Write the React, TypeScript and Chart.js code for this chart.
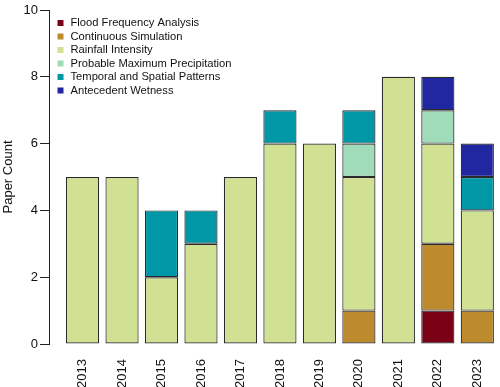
import React, { useEffect, useRef } from "react";
import { Chart, registerables } from "chart.js";

Chart.register(...registerables);

const years = ["2013", "2014", "2015", "2016", "2017", "2018", "2019", "2020", "2021", "2022", "2023"];
const seriesNames = [
  "Flood Frequency Analysis",
  "Continuous Simulation",
  "Rainfall Intensity",
  "Probable Maximum Precipitation",
  "Temporal and Spatial Patterns",
  "Antecedent Wetness",
];
const floodFrequency = [0, 0, 0, 0, 0, 0, 0, 0, 0, 1, 0];
const continuousSimulation = [0, 0, 0, 0, 0, 0, 0, 1, 0, 2, 1];
const rainfallIntensity = [5, 5, 2, 3, 5, 6, 6, 4, 8, 3, 3];
const probableMaxPrecip = [0, 0, 0, 0, 0, 0, 0, 1, 0, 1, 0];
const temporalSpatial = [0, 0, 2, 1, 0, 1, 0, 1, 0, 0, 1];
const antecedentWetness = [0, 0, 0, 0, 0, 0, 0, 0, 0, 1, 1];
const yTicks = [0, 2, 4, 6, 8, 10];
const colors = ["#7a0015", "#be8a2e", "#d0e194", "#a0dcba", "#0097a6", "#2027a0"];

const seriesValues = [
  floodFrequency,
  continuousSimulation,
  rainfallIntensity,
  probableMaxPrecip,
  temporalSpatial,
  antecedentWetness,
];

const FONT = "'Liberation Sans', Arial, Helvetica, sans-serif";

const legendPlugin = {
  id: "insideLegend",
  afterDraw(chart: any) {
    const ctx = chart.ctx;
    const { left, top } = chart.chartArea;
    ctx.save();
    ctx.font = `11.2px ${FONT}`;
    ctx.textBaseline = "middle";
    ctx.textAlign = "left";
    chart.data.datasets.forEach((ds: any, i: number) => {
      const y = top + 13 + i * 13.5;
      ctx.fillStyle = ds.backgroundColor;
      ctx.fillRect(left + 8.5, y - 3, 6, 6);
      ctx.fillStyle = "#111";
      ctx.fillText(ds.label, left + 21.5, y);
    });
    ctx.restore();
  },
};

export default function App() {
  const ref = useRef<HTMLCanvasElement | null>(null);
  useEffect(() => {
    if (!ref.current) return;
    const datasets = seriesNames.map((name, s) => ({
      label: name,
      data: years.map((_, i) => ({ x: i, y: seriesValues[s][i] === 0 ? null : seriesValues[s][i] })),
      backgroundColor: colors[s],
      borderColor: "#2a2a2a",
      borderWidth: 1.2,
      borderSkipped: false,
      barPercentage: 0.84,
      categoryPercentage: 1,
    }));
    const chart = new Chart(ref.current, {
      type: "bar",
      data: { datasets: datasets as any },
      plugins: [legendPlugin],
      options: {
        animation: false,
        responsive: false,
        maintainAspectRatio: false,
        layout: { padding: { top: 10, right: 2, left: 0, bottom: 0 } },
        plugins: { legend: { display: false }, tooltip: { enabled: false } },
        scales: {
          x: {
            type: "linear",
            stacked: true,
            offset: false,
            min: -0.85,
            max: 10.48,
            grid: { display: false, offset: false },
            border: { display: false },
            afterBuildTicks: (scale: any) => {
              scale.ticks = years.map((_, i) => ({ value: i }));
            },
            afterFit: (scale: any) => {
              scale.height = 43;
            },
            ticks: {
              autoSkip: false,
              minRotation: 90,
              maxRotation: 90,
              padding: 7,
              color: "#111",
              font: { family: FONT, size: 13 },
              callback: (v: any) => years[Math.round(v)] ?? "",
            },
          },
          y: {
            stacked: true,
            min: 0,
            max: 10,
            afterBuildTicks: (scale: any) => {
              scale.ticks = yTicks.map((v) => ({ value: v }));
            },
            afterFit: (scale: any) => {
              scale.width = 49;
            },
            grid: {
              display: true,
              drawOnChartArea: false,
              drawTicks: true,
              tickLength: 9,
              color: "#222",
              lineWidth: 1,
            },
            border: { display: true, color: "#222", width: 1 },
            title: {
              display: true,
              text: "Paper Count",
              color: "#111",
              font: { family: FONT, size: 13 },
              padding: { top: 1, bottom: 0 },
            },
            ticks: {
              padding: 2,
              color: "#111",
              font: { family: FONT, size: 13 },
            },
          },
        },
      },
    });
    return () => chart.destroy();
  }, []);
  return (
    <div style={{ position: "absolute", left: 0, top: 0, width: 500, height: 387, background: "#fff" }}>
      <canvas ref={ref} width={500} height={387} style={{ display: "block", width: 500, height: 387 }} />
    </div>
  );
}
